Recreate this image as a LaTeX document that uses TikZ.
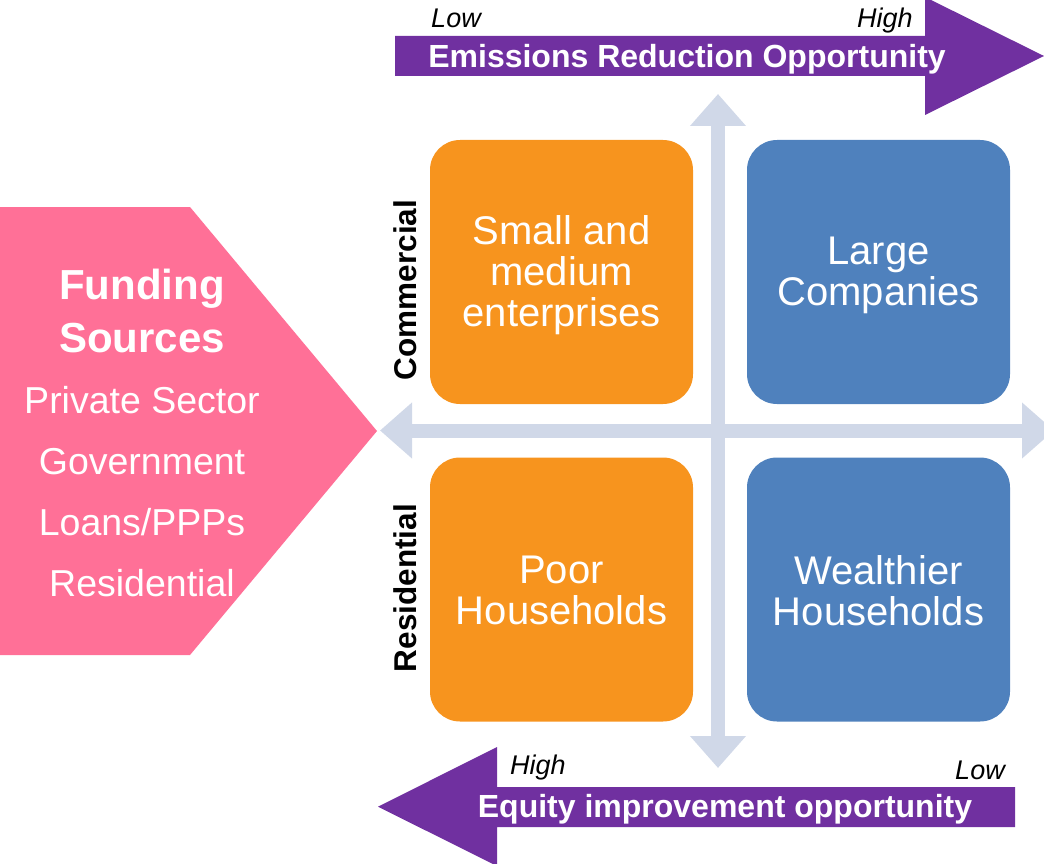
\documentclass[tikz,border=0pt]{standalone}
\usepackage{fontspec}
\setmainfont{Liberation Sans}
\usetikzlibrary{arrows.meta}
\usetikzlibrary{positioning}

\definecolor{quadorange}{HTML}{F7941E}
\definecolor{quadblue}{HTML}{4F81BD}
\definecolor{axisgrey}{HTML}{D0D8E8}
\definecolor{bandpurple}{HTML}{7030A0}
\definecolor{fundpink}{HTML}{FF7097}

\tikzset{
	quad/.style={rounded corners=30pt, minimum width=263pt, minimum height=264pt,
		inner sep=0pt, align=center, text=white, font=\fontsize{40}{41}\selectfont},
	axislabel/.style={text=white, inner sep=0pt, font=\bfseries\fontsize{32}{34}\selectfont},
	lowhigh/.style={inner sep=0pt, font=\itshape\fontsize{27}{29}\selectfont},
	sidelabel/.style={rotate=90, inner sep=0pt, font=\bfseries\fontsize{31.5}{33}\selectfont},
	fundtitle/.style={text=white, inner sep=0pt, font=\bfseries\fontsize{42}{44}\selectfont},
	funditem/.style={text=white, inner sep=0pt, font=\fontsize{37.5}{39}\selectfont},
	crossaxis/.style={axisgrey, line width=14pt, {Triangle[width=54pt,length=32pt]}-{Triangle[width=54pt,length=32pt]}}
}

\begin{document}
\begin{tikzpicture}[x=1pt, y=-1pt]
		\useasboundingbox (0,0) rectangle (1044,864);
		\clip (0,0) rectangle (1044,864);

		% Funding sources block
		\fill[fundpink] (0,207) -- (190,207) -- (377,431) -- (190,655) -- (0,655) -- cycle;
		\node[fundtitle] (ftop) at (142,289) {Funding};
		\node[fundtitle] (fbot) at (142,338) {Sources};
		\node[funditem] (priv) at (142,400) {Private Sector};
		\node[funditem] (gov)  at (142,462) {Government};
		\node[funditem] (loan) at (142,522) {Loans/PPPs};
		\node[funditem] (res)  at (142,583) {Residential};

		% Quadrants
		\node[quad, fill=quadorange] (sme)   at (561.5,272) {};
		\node[quad, fill=quadblue]   (large) at (878.5,272) {};
		\node[quad, fill=quadorange] (poor)  at (561.5,589.5) {};
		\node[quad, fill=quadblue]   (rich)  at (878.5,589.5) {};
		\node[quad] (smetext)   at ([yshift=-3pt]sme.center) {Small and\\medium\\enterprises};
		\node[quad] (largetext) at ([yshift=-3pt]large.center) {Large\\Companies};
		\node[quad] (poortext)  at ([yshift=-1pt]poor.center) {Poor\\Households};
		\node[quad] (richtext)  at ([yshift=-1pt]rich.center) {Wealthier\\Households};

		% Cross of axes
		\coordinate (up)    at (718,94);
		\coordinate (down)  at (718,768);
		\coordinate (left)  at (380,430.5);
		\coordinate (right) at (1054,430.5);
		\draw[crossaxis] (left) -- (right);
		\draw[crossaxis] (down) -- (up);

		% Side labels
		\node[sidelabel] (com) at (405,290) {Commercial};
		\node[sidelabel] (resd) at (405,588) {Residential};

		% Top band
		\fill[bandpurple] (395,36) -- (925,36) -- (925,-3) -- (1044,56) -- (925,115) -- (925,76) -- (395,76) -- cycle;
		\node[axislabel] (emis) at (687,59) {Emissions Reduction Opportunity};
		\node[lowhigh] (elow)  at (456,18) {Low};
		\node[lowhigh] (ehigh) at (885,21) {High};

		% Bottom band
		\fill[bandpurple] (1015,787) -- (497,787) -- (497,747) -- (378,806.7) -- (497,866) -- (497,827) -- (1015,827) -- cycle;
		\node[axislabel] (equi) at (725,809) {Equity improvement opportunity};
		\node[lowhigh] (qhigh) at (538,768) {High};
		\node[lowhigh] (qlow)  at (980,770) {Low};
	\end{tikzpicture}
\end{document}
